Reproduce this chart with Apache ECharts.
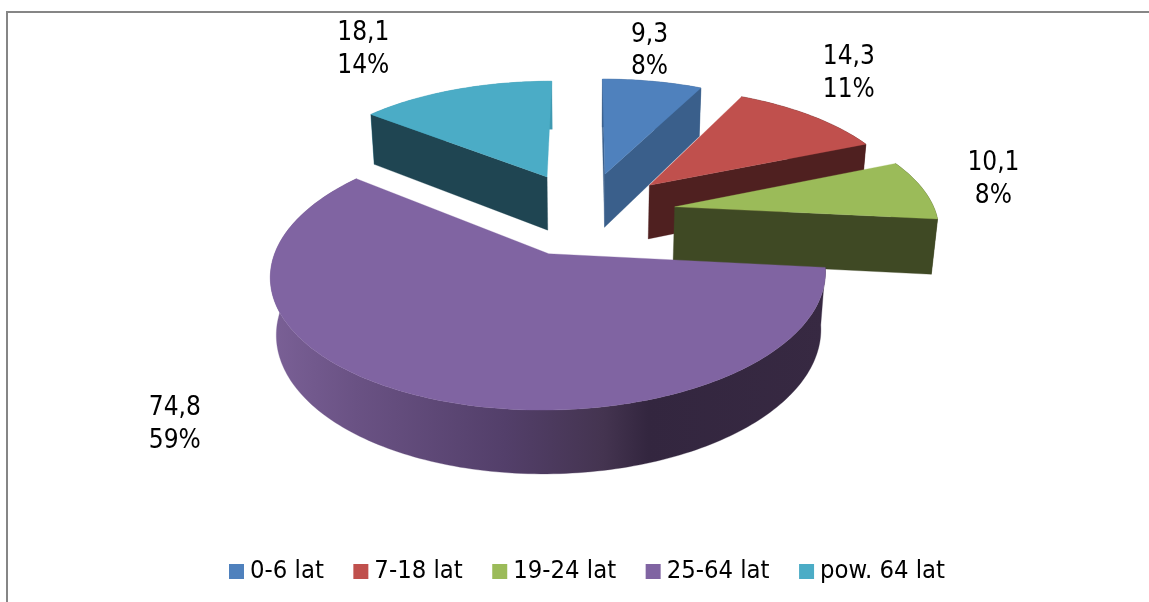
<!DOCTYPE html>
<html><head><meta charset="utf-8">
<style>html,body{margin:0;padding:0;background:#fff}#c{width:1149px;height:602px}</style>
<script src="https://cdn.jsdelivr.net/npm/echarts@6/dist/echarts.min.js"></script>
</head><body><div id="c"></div>
<script>
// Data
const categories = ['0-6 lat','7-18 lat','19-24 lat','25-64 lat','pow. 64 lat'];
const values = [9.3,14.3,10.1,74.8,18.1];
const valueLabels = ['9,3','14,3','10,1','74,8','18,1'];
const percentLabels = ['8%','11%','8%','59%','14%'];
// Styles
const topColors = ['#4F81BD','#C0504D','#9BBB59','#8064A2','#4BACC6'];
const wallColors = ['#3A5F8B','#4F2020','#3F4924','#352840','#1F4552'];
const rimColors = ['#3A5F8B','#4F2020','#3F4924','#352840','#3F99B1'];
const paintOrder = [1,2,3,5,4];
const labelOffsets = [[-3,-30],[38,-42],[70,-10],[-247,28],[-92,-40]];
const FONT = "'DejaVu Sans Condensed','DejaVu Sans',sans-serif";
// Camera
const cam = {x:585,y:213,R:261,A:119.7,k:0.148,D:56,m:0.018,explode:0.35};
const total = values.reduce((a,b)=>a+b,0);
function project(u,v,z){
  const w = 1 + cam.k*v + cam.m*z;
  return [cam.x + cam.R*u/w, cam.y - (cam.A*v - cam.D*z)/w];
}
const wallGradient = {type:'linear',x:272,y:0,x2:825,y2:0,global:true,colorStops:[
  {offset:0,color:'#7A6096'},{offset:0.15,color:'#6A5284'},{offset:0.42,color:'#533F6A'},
  {offset:0.6,color:'#443450'},{offset:0.68,color:'#33263F'},{offset:1,color:'#372942'}]};

function renderSlice(i){
  return function(params, api){
    const val = api.value(0);
    let before = 0; for(let j=0;j<i;j++) before += values[j];
    const a0 = before/total*2*Math.PI, a1 = (before+val)/total*2*Math.PI, mid=(a0+a1)/2;
    const ox = Math.sin(mid)*cam.explode, oy = Math.cos(mid)*cam.explode;
    const n = Math.max(8,Math.ceil((a1-a0)/0.02));
    const rim = z => { const p=[]; for(let s=0;s<=n;s++){const t=a0+(a1-a0)*s/n; p.push(project(ox+Math.sin(t),oy+Math.cos(t),z));} return p; };
    const top = rim(0), bot = rim(1);
    const ap0 = project(ox,oy,0), ap1 = project(ox,oy,1);
    const wall = wallColors[i];
    const poly = (points,fill)=>({type:'polygon',shape:{points},style:{fill,stroke:fill,lineWidth:0.3},silent:true});
    const m = project(ox+Math.sin(mid),oy+Math.cos(mid),0);
    const off = labelOffsets[i];
    const children = [poly(top.concat(bot.slice().reverse()), i===3?wallGradient:rimColors[i])];
    if (Math.sin(a0) < 1e-6) children.push(poly([ap0,top[0],bot[0],ap1],wall));
    if (Math.sin(a1) > 1e-6) children.push(poly([ap0,top[n],bot[n],ap1],wall));
    children.push(poly([ap0].concat(top),topColors[i]));
    children.push({type:'text',silent:true,style:{x:m[0]+off[0],y:m[1]+off[1],text:valueLabels[i]+'\n'+percentLabels[i],
        align:'center',verticalAlign:'middle',fontFamily:FONT,fontSize:26,lineHeight:32.5,fill:'#000'}});
    return {type:'group',children};
  };
}
const chart = echarts.init(document.getElementById('c'),null,{renderer:'canvas'});
chart.setOption({
  animation:false,
  backgroundColor:'#fff',
  color:topColors,
  legend:{show:true,left:229,top:559,padding:0,itemWidth:15,itemHeight:15,itemGap:29.5,icon:'rect',
    selectedMode:false,data:categories,
    textStyle:{fontFamily:FONT,fontSize:25.4,color:'#000',padding:[0,0,0,1]}},
  graphic:[
    {type:'line',shape:{x1:7,y1:12,x2:1149,y2:12},style:{stroke:'#868686',lineWidth:2},silent:true},
    {type:'line',shape:{x1:7,y1:11,x2:7,y2:602},style:{stroke:'#868686',lineWidth:2},silent:true}
  ],
  series:categories.map((name,i)=>({
    type:'custom',name,coordinateSystem:'none',z:paintOrder[i]+2,
    itemStyle:{color:topColors[i]},
    renderItem:renderSlice(i),data:[[values[i]]]
  }))
});
</script></body></html>
